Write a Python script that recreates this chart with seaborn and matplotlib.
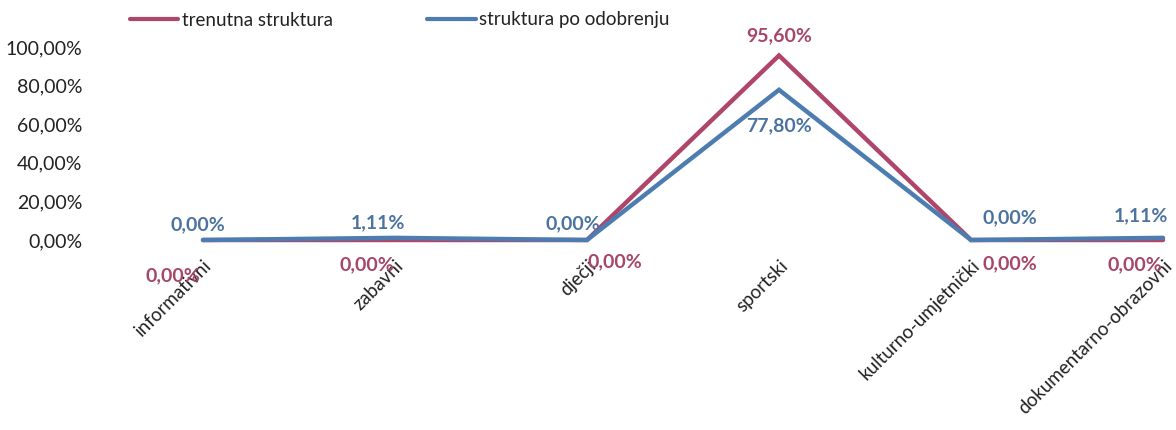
import matplotlib
matplotlib.use("Agg")
import matplotlib.pyplot as plt
import seaborn as sns
import pandas as pd

categories = ["informativni", "zabavni", "dječji", "sportski",
              "kulturno-umjetnički", "dokumentarno-obrazovni"]
trenutna = [0.00, 0.00, 0.00, 95.60, 0.00, 0.00]
po_odobrenju = [0.00, 1.11, 0.00, 77.80, 0.00, 1.11]
series_names = ["trenutna struktura", "struktura po odobrenju"]
y_ticks = [0, 20, 40, 60, 80, 100]

RED = "#B0456A"
BLUE = "#4D7DB0"
RED_TXT = "#A84668"
BLUE_TXT = "#4C73A0"

sns.set_theme(style="white")
plt.rcParams["font.family"] = ["Lato", "DejaVu Sans"]

df = pd.DataFrame({
    "kategorija": categories * 2,
    "vrijednost": trenutna + po_odobrenju,
    "serija": [series_names[0]] * len(categories) + [series_names[1]] * len(categories),
})
df["x"] = list(range(len(categories))) * 2

fig = plt.figure(figsize=(11.76, 4.30), dpi=100)
W, H = 1176, 430
left_px, right_px = 95, 1176
top_px, bot_px = 47, 240
ax = fig.add_axes([left_px / W, (H - bot_px) / H, (right_px - left_px) / W, (bot_px - top_px) / H])

sns.lineplot(data=df, x="x", y="vrijednost", hue="serija",
             palette={series_names[0]: RED, series_names[1]: BLUE},
             linewidth=3.2, ax=ax, legend=False, clip_on=False)
for ln in ax.lines:
    ln.set_clip_on(False)
    ln.set_solid_joinstyle("miter")

px_per_unit = 192.0
ax.set_xlim(-(203 - left_px) / px_per_unit, 5 + (right_px - 1163) / px_per_unit)
ax.set_ylim(0, 100)
ax.set_yticks(y_ticks)
ax.set_yticklabels([f"{v:.2f}".replace(".", ",") + "%" for v in y_ticks], fontsize=14, color="#222222")
ax.set_xticks(range(len(categories)))
ax.set_xticklabels(categories, rotation=45, ha="right", rotation_mode="anchor",
                   fontsize=13.5, color="#222222")
ax.tick_params(axis="x", pad=12, length=0)
ax.tick_params(axis="y", pad=9, length=0)
ax.set_xlabel("")
ax.set_ylabel("")
for s in ax.spines.values():
    s.set_visible(False)
ax.grid(False)

def fmt(v):
    return f"{v:.2f}".replace(".", ",") + "%"

# data label offsets (points)
red_off = [(-22, -26), (-20, -18), (20, -16), (0, 14), (28, -17), (-20, -18)]
blue_off = [(-4, 11), (-12, 11), (-10, 12), (0, -26), (28, 16), (-16, 16)]
for i in range(len(categories)):
    ax.annotate(fmt(trenutna[i]), xy=(i, trenutna[i]), xytext=red_off[i],
                textcoords="offset points", ha="center", va="center",
                fontsize=14, fontweight="bold", color=RED_TXT, annotation_clip=False)
    ax.annotate(fmt(po_odobrenju[i]), xy=(i, po_odobrenju[i]), xytext=blue_off[i],
                textcoords="offset points", ha="center", va="center",
                fontsize=14, fontweight="bold", color=BLUE_TXT, annotation_clip=False)

from matplotlib.lines import Line2D
handles = [Line2D([], [], color=RED, lw=3.0), Line2D([], [], color=BLUE, lw=3.0)]
fig.legend(handles, series_names, loc="center left", bbox_to_anchor=(122 / W, 1 - 20 / H),
           ncol=2, frameon=False, fontsize=13.5, handlelength=2.6, handletextpad=0.2,
           columnspacing=5.0, borderaxespad=0, labelcolor="#222222")

fig.savefig("out.png", dpi=100, facecolor="white")
